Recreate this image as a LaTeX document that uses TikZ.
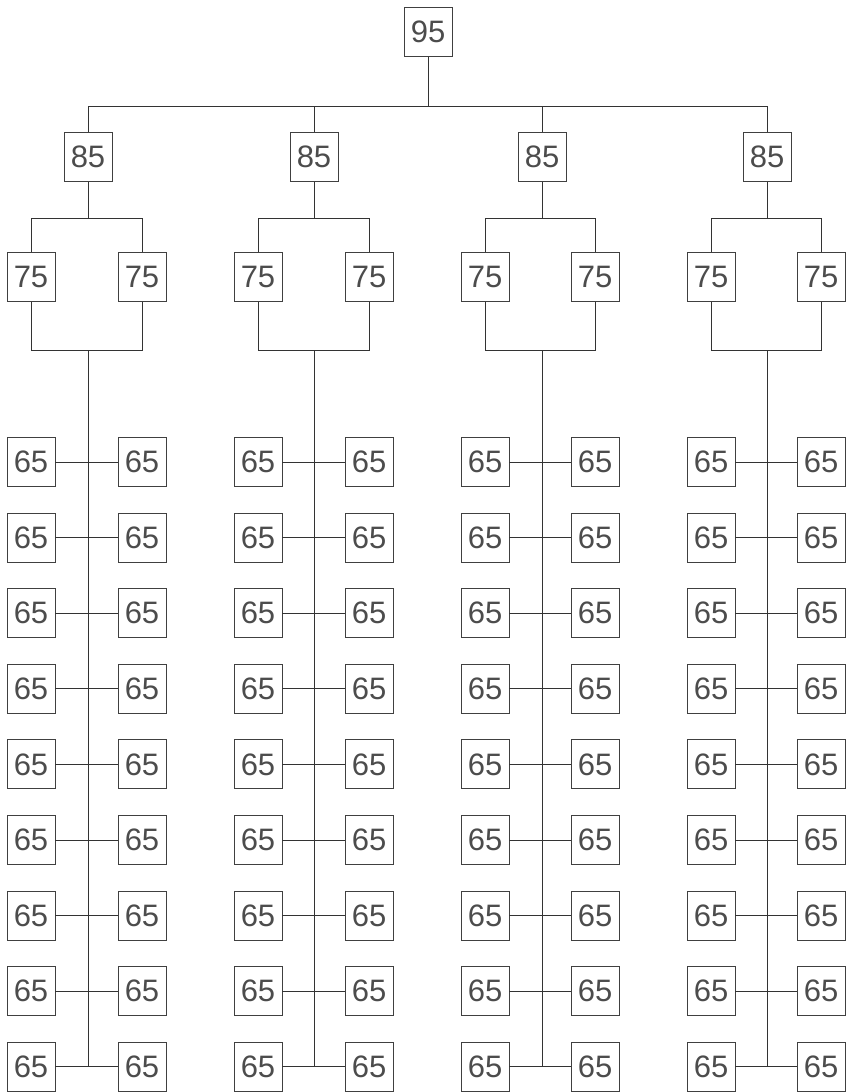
\documentclass[tikz,border=0pt]{standalone}
\usepackage{fontspec}
\setmainfont{Liberation Sans}
\begin{document}
\begin{tikzpicture}[x=1pt,y=-1pt,
  box/.style={draw=black!75, line width=0.9pt, minimum width=48pt, minimum height=49pt, inner sep=0pt,
    text=black!70, font=\fontsize{31}{31}\selectfont},
  wire/.style={draw=black!80, line width=0.9pt}]
\useasboundingbox (0,0) rectangle (848,1092);
\fill[white] (0,0) rectangle (848,1092);
\node[box] (r) at (428,32) {95};
\coordinate (bus) at (0,106);
\foreach \i/\pc/\lx/\rx in {1/88/31/142, 2/314/258/369, 3/542/485/595, 4/767/711/821}{
  \node[box] (p\i) at (\pc,157) {85};
  \draw[wire] (r.south) -- (r.south |- bus) -| (p\i.north);
  \node[box] (a\i) at (\lx,277) {75};
  \node[box] (b\i) at (\rx,277) {75};
  \coordinate (m\i) at (0,218);
  \draw[wire] (p\i.south) -- (p\i.south |- m\i) -| (a\i.north);
  \draw[wire] (p\i.south |- m\i) -| (b\i.north);
  \coordinate (t\i) at (\pc,350);
  \draw[wire] (a\i.south) |- (t\i);
  \draw[wire] (b\i.south) |- (t\i);
  \foreach \k in {0,...,8}{
    \node[box] (L\i-\k) at (\lx,{462+75.6*\k}) {65};
    \node[box] (R\i-\k) at (\rx,{462+75.6*\k}) {65};
    \draw[wire] (L\i-\k.east) -- (R\i-\k.west);
  }
  \draw[wire] (t\i) -- (t\i |- L\i-8.east);
}
\end{tikzpicture}
\end{document}
